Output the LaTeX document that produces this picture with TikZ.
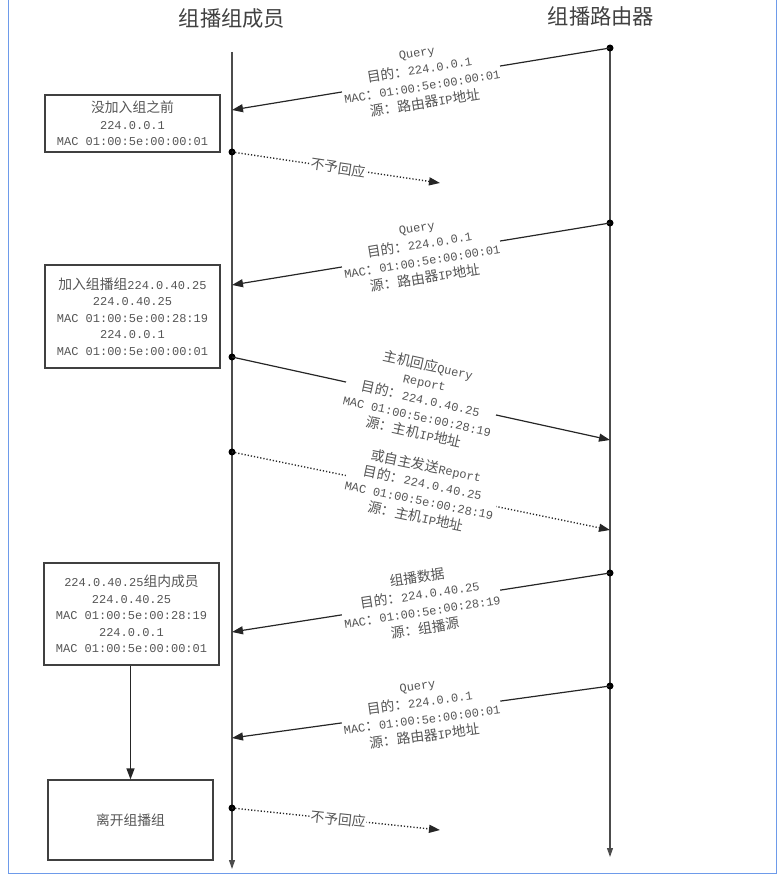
\documentclass[tikz,border=0pt]{standalone}
\usepackage{fontspec}
\setmainfont{Liberation Mono}
\newfontfamily\cjk[Scale=1.15]{Noto Sans CJK SC}
\usetikzlibrary{arrows.meta,positioning}
\definecolor{seqgray}{HTML}{555555}
\definecolor{frameblue}{HTML}{6E9BEA}

\newcommand{\querylbl}{Query\\{\cjk 目的：}224.0.0.1\\MAC{\cjk ：}01:00:5e:00:00:01\\{\cjk 源：路由器}IP{\cjk 地址}}

\begin{document}
\begin{tikzpicture}[x=1pt, y=-1pt,
    box/.style={draw=black!75, line width=1.2pt, text=seqgray, align=center,
      font=\fontsize{12}{16.5}\selectfont, inner sep=0pt},
    msg/.style={-{Triangle[length=11pt,width=8pt]}, line width=1.2pt, draw=black!85},
    noreply/.style={msg, dotted, line width=1.4pt},
    life/.style={-{Triangle[length=9pt,width=6pt]}, line width=1.1pt, draw=black!70},
    lbl/.style={sloped, pos=0.5, fill=white, inner sep=1pt, align=center, text=seqgray,
      font=\fontsize{12}{17.2}\selectfont},
    dot/.style={circle, fill=black, inner sep=0pt, minimum size=7pt},
    title/.style={text=black!75, font=\cjk\fontsize{18.5}{22}\selectfont}]
\useasboundingbox (0,0) rectangle (781,875);
\draw[frameblue, line width=1pt] (8,-2) -- (8,873) -- (776,873) -- (776,-2);

% lifelines
\node[title] (member) at (232,18) {组播组成员};
\node[title] (router) at (601,16) {组播路由器};
\coordinate (mtop) at (232,52);
\coordinate (mbot) at (232,869);
\coordinate (rtop) at (610,48);
\coordinate (rbot) at (610,857);
\draw[life] (mtop) -- (mbot);
\draw[life] (rtop) -- (rbot);

% member state boxes
\node[box, minimum width=175pt, minimum height=57pt] (before) at (132.5,123.5)
  {{\cjk 没加入组之前}\\224.0.0.1\\MAC 01:00:5e:00:00:01};
\node[box, minimum width=175pt, minimum height=103pt] (join) at (132.5,316.5)
  {{\cjk 加入组播组}224.0.40.25\\224.0.40.25\\MAC 01:00:5e:00:28:19\\224.0.0.1\\MAC 01:00:5e:00:00:01};
\node[box, minimum width=175pt, minimum height=102pt] (inside) at (131.5,614)
  {224.0.40.25{\cjk 组内成员}\\224.0.40.25\\MAC 01:00:5e:00:28:19\\224.0.0.1\\MAC 01:00:5e:00:00:01};
\node[box, minimum width=165pt, minimum height=80pt] (leave) at (130.5,820) {\cjk 离开组播组};
\draw[msg] (inside.south -| leave.north) -- (leave.north);

% queries from the router
\foreach \ry/\my in {48/110, 223/285, 686/738} {
  \node[dot] (rq\ry) at (610,\ry) {};
  \coordinate (mq\ry) at (232,\my);
  \draw[msg] (rq\ry.center) -- (mq\ry) node[lbl] {\querylbl};
}

% no answer
\foreach \sy/\ey in {152/183, 808/830} {
  \node[dot] (mn\sy) at (232,\sy) {};
  \coordinate (en\sy) at (440,\ey);
  \draw[noreply] (mn\sy.center) -- (en\sy) node[lbl, pos=0.51] {\cjk 不予回应};
}

% reports
\node[dot] (mr1) at (232,357) {};
\coordinate (rr1) at (610,440);
\draw[msg] (mr1.center) -- (rr1) node[lbl]
  {{\cjk 主机回应}Query\\Report\\{\cjk 目的：}224.0.40.25\\MAC 01:00:5e:00:28:19\\{\cjk 源：主机}IP{\cjk 地址}};
\node[dot] (mr2) at (232,452) {};
\coordinate (rr2) at (610,530);
\draw[noreply] (mr2.center) -- (rr2) node[lbl]
  {{\cjk 或自主发送}Report\\{\cjk 目的：}224.0.40.25\\MAC 01:00:5e:00:28:19\\{\cjk 源：主机}IP{\cjk 地址}};

% multicast data
\node[dot] (rd) at (610,573) {};
\coordinate (md) at (232,632);
\draw[msg] (rd.center) -- (md) node[lbl]
  {{\cjk 组播数据}\\{\cjk 目的：}224.0.40.25\\MAC{\cjk ：}01:00:5e:00:28:19\\{\cjk 源：组播源}};
\end{tikzpicture}
\end{document}
